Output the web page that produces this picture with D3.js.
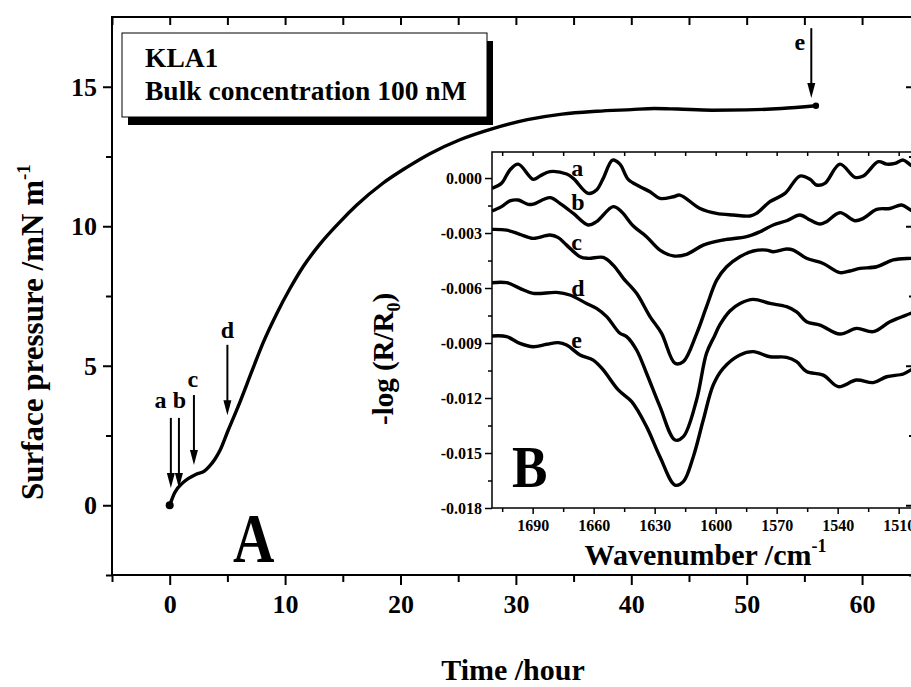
<!DOCTYPE html>
<html>
<head>
<meta charset="utf-8">
<script src="https://cdn.jsdelivr.net/npm/d3@7"></script>
<style>
  html, body { margin: 0; padding: 0; background: #fff; }
  svg { display: block; }
  text { font-family: "Liberation Serif", "Times New Roman", Times, serif; font-weight: bold; fill: #000; }
</style>
</head>
<body>
<svg id="chart" width="911" height="687"></svg>
<script>
// ---------------- DATA ----------------
// Main panel A: surface pressure vs time
const mainTime     = [0, 0.43, 1.15, 2.3, 3.0, 3.47, 3.9, 4.34, 5.06, 6.07, 7.08, 8.1, 9.25, 10.4, 11.56, 13.0, 14.74, 16.19, 18.5, 20.5, 22.55, 25.15, 28, 31, 34, 37, 40, 42, 44, 47, 50, 53, 56];
const mainPressure = [0, 0.45, 0.81, 1.11, 1.22, 1.41, 1.64, 1.95, 2.68, 3.68, 4.76, 5.83, 6.85, 7.75, 8.55, 9.35, 10.15, 10.75, 11.55, 12.1, 12.6, 13.1, 13.5, 13.82, 14.02, 14.12, 14.18, 14.22, 14.2, 14.16, 14.17, 14.22, 14.32];

const xMajorTicks = [0, 10, 20, 30, 40, 50, 60];
const xMinorTicks = [-5, 5, 15, 25, 35, 45, 55];
const yMajorTicks = [0, 5, 10, 15];
const yMinorTicks = [-2.5, 2.5, 7.5, 12.5];

// Arrows marking spectra acquisition times
const arrowLabels   = ["a", "b", "c", "d", "e"];
const arrowTimes    = [0.1, 0.8, 2.1, 5.0, 55.6];
const arrowTops     = [3.13, 3.13, 3.95, 5.75, 17.1];
const arrowTips     = [0.62, 0.62, 1.44, 3.23, 14.6];
const arrowLabelX   = [-0.8, 0.85, 2.0, 5.0, 54.6];
const arrowLabelY   = [3.49, 3.49, 4.24, 6.0, 16.3];

// Inset panel B: IRRAS spectra
const specLabels = ["a", "b", "c", "d", "e"];
const wnA = [1710, 1705.3, 1701.2, 1697.1, 1689.7, 1686.4, 1681.5, 1673.3, 1670.0, 1662.7, 1658.6, 1655.3, 1650.7, 1647.1, 1643.0, 1637.2, 1632.3, 1627.4, 1620.8, 1617.6, 1607.7, 1599.6, 1591.3, 1583.1, 1579.9, 1573.3, 1565.9, 1558.6, 1553.6, 1550.4, 1546.3, 1538.9, 1531.5, 1527.4, 1520.0, 1515.9, 1511.8, 1507.7, 1504.0, 1500];
const specA = [-0.00056, -0.00029, 0.00044, 0.00076, -0.00007, 0.00011, 0.00035, 0.00022, -0.00002, -0.00084, -0.00065, -0.00002, 0.00098, 0.00076, -0.00007, -0.00047, -0.00075, -0.00111, -0.00102, -0.00093, -0.00166, -0.00193, -0.00202, -0.00207, -0.00193, -0.00129, -0.00084, 0.00011, -0.00007, -0.00038, -0.00029, 0.00076, 0.00004, 0.00011, 0.00089, 0.00076, 0.0008, 0.00098, 0.0007, 0.0005];
const wnB = [1710, 1705.3, 1701.2, 1697.1, 1692.2, 1689.7, 1681.5, 1676.6, 1670.0, 1662.7, 1658.6, 1650.4, 1646.3, 1640.5, 1634.0, 1627.4, 1620.8, 1614.3, 1606.1, 1596.3, 1584.8, 1578.2, 1571.7, 1565.1, 1558.6, 1553.6, 1548.7, 1545.5, 1538.9, 1531.5, 1527.4, 1520.8, 1514.3, 1508.5, 1504.0, 1500];
const specB = [-0.0018, -0.00156, -0.00125, -0.0012, -0.00144, -0.00142, -0.00107, -0.00138, -0.00193, -0.00256, -0.00238, -0.00156, -0.00184, -0.00262, -0.0032, -0.00393, -0.00425, -0.00416, -0.00366, -0.00338, -0.0032, -0.00293, -0.00256, -0.00233, -0.00202, -0.00229, -0.00251, -0.00238, -0.00189, -0.00233, -0.0022, -0.00171, -0.00166, -0.00147, -0.00175, -0.0019];
const wnC = [1710, 1702.8, 1696.3, 1689.7, 1681.5, 1677.4, 1673.3, 1666.7, 1662.7, 1655.3, 1650.4, 1645.4, 1638.9, 1632.3, 1626.6, 1620.0, 1615.9, 1609.4, 1604.5, 1599.5, 1594.6, 1588.1, 1581.5, 1575.0, 1571.7, 1565.1, 1561.8, 1555.3, 1547.1, 1538.9, 1534.0, 1529.0, 1520.8, 1512.7, 1504.0, 1500];
const specC = [-0.0028, -0.00284, -0.00307, -0.00329, -0.00311, -0.00325, -0.00366, -0.00429, -0.00438, -0.00433, -0.00475, -0.00547, -0.00629, -0.00756, -0.00847, -0.01011, -0.01002, -0.0085, -0.00702, -0.00557, -0.00484, -0.00429, -0.00398, -0.00393, -0.00402, -0.00387, -0.00393, -0.00438, -0.00466, -0.00516, -0.00507, -0.00493, -0.00484, -0.00447, -0.00438, -0.00436];
const wnD = [1710, 1702.8, 1696.3, 1689.7, 1678.2, 1671.7, 1663.5, 1658.6, 1653.6, 1647.1, 1643.8, 1638.9, 1634.0, 1627.4, 1620.0, 1615.9, 1609.4, 1604.5, 1600.5, 1597.9, 1593.0, 1588.0, 1581.5, 1573.3, 1565.1, 1560.2, 1555.3, 1548.7, 1538.9, 1530.7, 1522.5, 1514.3, 1504.0, 1500];
const specD = [-0.00571, -0.00571, -0.00602, -0.00629, -0.00624, -0.00638, -0.00684, -0.00711, -0.00756, -0.00847, -0.00865, -0.00938, -0.01065, -0.01247, -0.01429, -0.01411, -0.01211, -0.00956, -0.0086, -0.008, -0.00725, -0.00684, -0.00662, -0.00684, -0.00702, -0.0073, -0.00784, -0.00802, -0.00851, -0.0082, -0.00838, -0.00784, -0.00738, -0.0072];
const wnE = [1710, 1702.8, 1696.3, 1689.7, 1683.1, 1677.4, 1673.3, 1666.7, 1660.2, 1655.3, 1647.9, 1641.3, 1634.0, 1627.4, 1620.0, 1615.9, 1611.0, 1606.1, 1601.2, 1596.3, 1588.1, 1581.5, 1573.3, 1565.1, 1560.2, 1555.3, 1547.1, 1539.7, 1530.7, 1522.5, 1515.9, 1507.7, 1504.0, 1500];
const specE = [-0.00862, -0.00865, -0.00902, -0.0092, -0.00907, -0.00898, -0.00911, -0.00965, -0.00993, -0.01047, -0.01156, -0.0122, -0.01356, -0.0152, -0.01675, -0.01656, -0.0152, -0.0132, -0.01129, -0.01038, -0.00965, -0.00947, -0.00975, -0.00978, -0.01002, -0.01056, -0.01075, -0.01138, -0.01102, -0.01116, -0.01084, -0.01069, -0.01047, -0.0103];
const specLabelWn = 1671;
const specLabelV  = [0.00011, -0.00175, -0.00393, -0.00644, -0.00927];

const insetXMajor = [1690, 1660, 1630, 1600, 1570, 1540, 1510];
const insetXMinor = [1705, 1675, 1645, 1615, 1585, 1555, 1525];
const insetYMajor = [0, -0.003, -0.006, -0.009, -0.012, -0.015, -0.018];
const insetYMajorLabels = ["0.000", "-0.003", "-0.006", "-0.009", "-0.012", "-0.015", "-0.018"];
const insetYMinor = [-0.0015, -0.0045, -0.0075, -0.0105, -0.0135, -0.0165];

const legendLines = ["KLA1", "Bulk concentration 100 nM"];

// ---------------- DRAW ----------------
const svg = d3.select("#chart");

// Main scales
const x = d3.scaleLinear().domain([-5, 64.5]).range([112, 914]);
const y = d3.scaleLinear().domain([-2.5, 17.5]).range([575, 17]);

function styleAxis(g, fontSize) {
  g.select(".domain").remove();
  g.selectAll(".tick line").attr("stroke", "#000").attr("stroke-width", 2);
  g.selectAll(".tick text").attr("font-size", fontSize)
    .style("font-family", '"Liberation Serif", "Times New Roman", serif').style("font-weight", "bold");
}

// bottom
svg.append("g").attr("transform", "translate(0,575)")
  .call(d3.axisBottom(x).tickValues(xMajorTicks).tickSize(10).tickPadding(10).tickFormat(d3.format("d")))
  .call(g => styleAxis(g, 26));
svg.append("g").attr("transform", "translate(0,575)")
  .call(d3.axisBottom(x).tickValues(xMinorTicks).tickSize(7).tickFormat(""))
  .call(g => styleAxis(g, 26));
// top (inward)
svg.append("g").attr("transform", "translate(0,17)")
  .call(d3.axisBottom(x).tickValues(xMajorTicks.concat(xMinorTicks)).tickSize(8).tickFormat(""))
  .call(g => styleAxis(g, 26));
// left
svg.append("g").attr("transform", "translate(112,0)")
  .call(d3.axisLeft(y).tickValues(yMajorTicks).tickSize(9).tickPadding(6).tickFormat(d3.format("d")))
  .call(g => styleAxis(g, 26));
svg.append("g").attr("transform", "translate(112,0)")
  .call(d3.axisLeft(y).tickValues(yMinorTicks).tickSize(6).tickFormat(""))
  .call(g => styleAxis(g, 26));
// right (inward)
svg.append("g").attr("transform", "translate(914,0)")
  .call(d3.axisLeft(y).tickValues(yMajorTicks).tickSize(8).tickFormat(""))
  .call(g => styleAxis(g, 26));
svg.append("g").attr("transform", "translate(914,0)")
  .call(d3.axisLeft(y).tickValues(yMinorTicks).tickSize(5).tickFormat(""))
  .call(g => styleAxis(g, 26));

// frame
svg.append("rect").attr("x", x.range()[0]).attr("y", y.range()[1])
  .attr("width", x.range()[1] - x.range()[0]).attr("height", y.range()[0] - y.range()[1])
  .attr("fill", "none").attr("stroke", "#000").attr("stroke-width", 2);

// axis titles
svg.append("text").attr("x", (x.range()[0] + x.range()[1]) / 2).attr("y", 680)
  .attr("text-anchor", "middle").attr("font-size", 30).text("Time /hour");
const yTitle = svg.append("text").attr("transform", "translate(43,500) rotate(-90)")
  .attr("text-anchor", "start").attr("font-size", 31);
yTitle.append("tspan").text("Surface pressure /mN m");
yTitle.append("tspan").attr("font-size", 19).attr("dy", -13).text("-1");

// legend box
svg.append("rect").attr("x", 128).attr("y", 41).attr("width", 365).attr("height", 84).attr("fill", "#000");
svg.append("rect").attr("x", 122).attr("y", 33).attr("width", 365).attr("height", 84)
  .attr("fill", "#fff").attr("stroke", "#000").attr("stroke-width", 1);
svg.append("text").attr("x", 145).attr("y", 67).attr("font-size", 27.5).text(legendLines[0]);
svg.append("text").attr("x", 145).attr("y", 100).attr("font-size", 27.5).text(legendLines[1]);

// main curve
const mainData = mainTime.map((t, i) => ({ t, p: mainPressure[i] }));
svg.append("path").datum(mainData)
  .attr("fill", "none").attr("stroke", "#000").attr("stroke-width", 3.4)
  .attr("stroke-linejoin", "round").attr("stroke-linecap", "round")
  .attr("d", d3.line().x(d => x(d.t)).y(d => y(d.p)).curve(d3.curveMonotoneX));
svg.append("circle").attr("cx", x(mainTime[0])).attr("cy", y(mainPressure[0])).attr("r", 4).attr("fill", "#000");
svg.append("circle").attr("cx", x(mainTime[mainTime.length - 1])).attr("cy", y(mainPressure[mainPressure.length - 1])).attr("r", 3.2).attr("fill", "#000");

// arrows
arrowLabels.forEach((lab, i) => {
  const ax = x(arrowTimes[i]);
  const y0 = y(arrowTops[i]);
  const y1 = y(arrowTips[i]);
  svg.append("line").attr("x1", ax).attr("x2", ax).attr("y1", y0).attr("y2", y1 - 10)
    .attr("stroke", "#000").attr("stroke-width", 2);
  svg.append("path")
    .attr("d", `M${ax - 4},${y1 - 15} L${ax + 4},${y1 - 15} L${ax},${y1} Z`)
    .attr("fill", "#000");
  svg.append("text").attr("x", x(arrowLabelX[i])).attr("y", y(arrowLabelY[i]))
    .attr("text-anchor", "middle").attr("font-size", 24).text(lab);
});

// big letter A
svg.append("text").attr("transform", "translate(233,562) scale(0.82,1)")
  .attr("font-size", 70).text("A");

// ---------------- INSET ----------------
const xi = d3.scaleLinear().domain([1710, 1500]).range([492, 919]);
const yi = d3.scaleLinear().domain([-0.018, 0.00142]).range([508, 152]);

function styleInset(g) {
  g.select(".domain").remove();
  g.selectAll(".tick line").attr("stroke", "#000").attr("stroke-width", 1.5);
  g.selectAll(".tick text").attr("font-size", 16)
    .style("font-family", '"Liberation Serif", "Times New Roman", serif').style("font-weight", "bold");
}
svg.append("g").attr("transform", "translate(0,508)")
  .call(d3.axisBottom(xi).tickValues(insetXMajor).tickSize(6).tickPadding(6).tickFormat(d3.format("d")))
  .call(styleInset);
svg.append("g").attr("transform", "translate(0,508)")
  .call(d3.axisBottom(xi).tickValues(insetXMinor).tickSize(4).tickFormat(""))
  .call(styleInset);
svg.append("g").attr("transform", "translate(0,152)")
  .call(d3.axisBottom(xi).tickValues(insetXMajor.concat(insetXMinor)).tickSize(4).tickFormat(""))
  .call(styleInset);
svg.append("g").attr("transform", "translate(492,0)")
  .call(d3.axisLeft(yi).tickValues(insetYMajor).tickSize(7).tickPadding(3)
    .tickFormat((d, i) => insetYMajorLabels[i]))
  .call(styleInset);
svg.append("g").attr("transform", "translate(492,0)")
  .call(d3.axisLeft(yi).tickValues(insetYMinor).tickSize(4).tickFormat(""))
  .call(styleInset);
svg.append("g").attr("transform", "translate(919,0)")
  .call(d3.axisLeft(yi).tickValues(insetYMajor).tickSize(7).tickFormat(""))
  .call(styleInset);

svg.append("rect").attr("x", xi.range()[0]).attr("y", yi.range()[1])
  .attr("width", xi.range()[1] - xi.range()[0]).attr("height", yi.range()[0] - yi.range()[1])
  .attr("fill", "none").attr("stroke", "#000").attr("stroke-width", 1.5);

const specWn = [wnA, wnB, wnC, wnD, wnE];
const specV = [specA, specB, specC, specD, specE];
const specLine = d3.line().x(d => xi(d[0])).y(d => yi(d[1])).curve(d3.curveCatmullRom.alpha(0.5));
svg.append("clipPath").attr("id", "insetClip").append("rect")
  .attr("x", xi.range()[0]).attr("y", yi.range()[1] - 10)
  .attr("width", xi.range()[1] - xi.range()[0]).attr("height", yi.range()[0] - yi.range()[1] + 10);
specWn.forEach((wns, k) => {
  const pts = wns.map((w, i) => [w, specV[k][i]]);
  svg.append("path").datum(pts).attr("clip-path", "url(#insetClip)")
    .attr("fill", "none").attr("stroke", "#000").attr("stroke-width", 3.4)
    .attr("stroke-linejoin", "round").attr("d", specLine);
  svg.append("text").attr("x", xi(specLabelWn)).attr("y", yi(specLabelV[k]))
    .attr("font-size", 24).text(specLabels[k]);
});

// inset titles
const wt = svg.append("text").attr("x", (xi.range()[0] + xi.range()[1]) / 2).attr("y", 565)
  .attr("text-anchor", "middle").attr("font-size", 30);
wt.append("tspan").text("Wavenumber /cm");
wt.append("tspan").attr("font-size", 18).attr("dy", -13).text("-1");

const lt = svg.append("text").attr("transform", "translate(393,425) rotate(-90)")
  .attr("text-anchor", "start").attr("font-size", 29);
lt.append("tspan").text("-log (R/R");
lt.append("tspan").attr("font-size", 18).attr("dy", 7).text("0");
lt.append("tspan").attr("dy", -7).text(")");

svg.append("text").attr("transform", "translate(512,487) scale(0.9,1)")
  .attr("font-size", 59).text("B");
</script>
</body>
</html>
